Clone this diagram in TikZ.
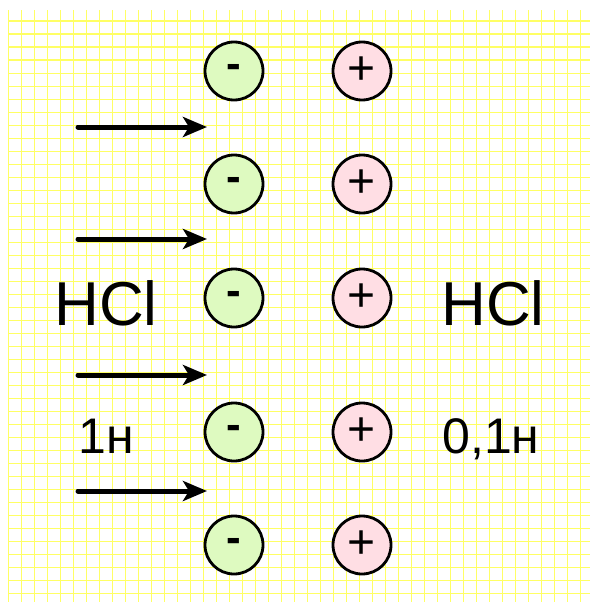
\documentclass[tikz,border=0pt]{standalone}
\usepackage{fontspec}
\setmainfont{Liberation Sans}
\usetikzlibrary{arrows.meta}

\definecolor{gridyellow}{RGB}{255,255,100}
\definecolor{aniongreen}{RGB}{222,250,192}
\definecolor{cationpink}{RGB}{255,222,228}

\begin{document}
\begin{tikzpicture}[
    x=1pt, y=-1pt,
    paper/.style={draw=gridyellow, line width=1.6pt, step=13pt},
    ion/.style={circle, draw, line width=2.8pt, minimum size=58pt, inner sep=0pt},
    anion/.style={ion, fill=aniongreen, font=\fontsize{44}{44}\selectfont\bfseries},
    cation/.style={ion, fill=cationpink, font=\fontsize{48}{48}\selectfont},
    flow/.style={-{Stealth[length=24pt, width=20pt, inset=6pt]}, line width=5pt, line cap=round},
    big/.style={font=\fontsize{62}{66}\selectfont, anchor=base},
    conc/.style={font=\fontsize{50}{54}\selectfont, anchor=base}
]
\useasboundingbox (0,0) rectangle (590,602);

% Squared paper
\draw[paper, shift={(8.3,8.3)}] (0,1.7) grid (581.7,593.7);

% Membrane: anions (left) and cations (right)
\node[anion] (a1) at (234,71) {-};
\node[anion] (a2) at (234,184) {-};
\node[anion] (a3) at (234,298) {-};
\node[anion] (a4) at (234,432) {-};
\node[anion] (a5) at (234,545) {-};

\node[cation] (c1) at (362,71) {+};
\node[cation] (c2) at (362,184) {+};
\node[cation] (c3) at (362,298) {+};
\node[cation] (c4) at (362,432) {+};
\node[cation] (c5) at (362,545) {+};

% Flow towards the membrane
\coordinate (s1) at (78,127);
\coordinate (s2) at (78,239);
\coordinate (s3) at (78,375);
\coordinate (s4) at (78,491);
\coordinate (e1) at (207,127);
\coordinate (e2) at (207,239);
\coordinate (e3) at (207,375);
\coordinate (e4) at (207,491);
\draw[flow] (s1) -- (e1);
\draw[flow] (s2) -- (e2);
\draw[flow] (s3) -- (e3);
\draw[flow] (s4) -- (e4);

% Solutions
\node[big] (acidL) at (106,325) {HCl};
\node[big] (acidR) at (493,325) {HCl};
\node[conc] (concL) at (106,453) {1н};
\node[conc] (concR) at (491,453) {0,1н};

\end{tikzpicture}
\end{document}
